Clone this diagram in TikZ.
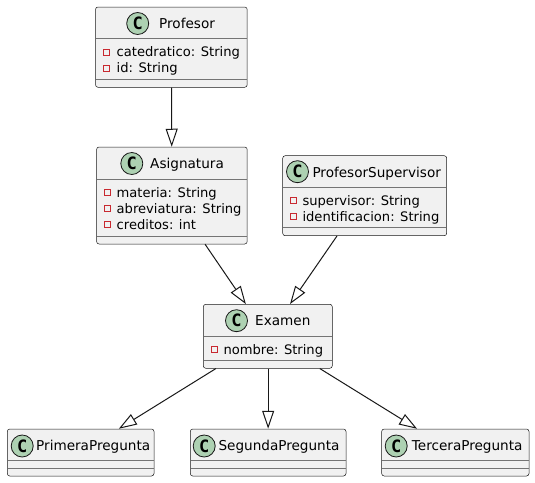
\documentclass[tikz,border=0pt]{standalone}
\usepackage{fontspec}
\setmainfont{DejaVu Sans}
\newfontfamily\cfont{DejaVu Sans Mono}
\usetikzlibrary{arrows.meta}
\definecolor{boxfill}{HTML}{F1F1F1}
\definecolor{ink}{HTML}{181818}
\definecolor{cfill}{HTML}{ADD1B2}
\definecolor{priv}{HTML}{C82930}
\tikzset{
  cls/.style={draw=ink, fill=boxfill, line width=0.5pt, rounded corners=2.5pt, inner sep=0pt, rectangle},
  sepl/.style={draw=ink!60, line width=0.8pt},
  circ/.style={circle, draw=ink, fill=cfill, line width=0.8pt, minimum size=22pt, inner sep=0pt, font=\cfont\bfseries\fontsize{17}{17}\selectfont},
  cname/.style={anchor=base west, inner sep=0pt, font=\fontsize{13.6}{13.6}\selectfont},
  attr/.style={anchor=base west, inner sep=0pt, font=\fontsize{13.1}{13.1}\selectfont},
  privsq/.style={draw=priv, line width=0.8pt, minimum size=6pt, inner sep=0pt, rectangle},
  ext/.style={draw=ink, line width=1pt, -{Triangle[open, length=18pt, width=12pt]}, line join=miter}
}
% name, L, R, T, B, s1, s2
\newcommand{\classbox}[7]{%
  \node[cls, minimum width={#3-#2}, minimum height={#5-#4}] (#1) at ({(#2+#3)/2},{(#4+#5)/2}) {};
  \draw[sepl] (#2+0.3,#6) -- (#3-0.3,#6);
  \draw[sepl] (#2+0.3,#7) -- (#3-0.3,#7);
}
\begin{document}
\begin{tikzpicture}[x=1pt, y=-1pt]
\useasboundingbox (0,0) rectangle (535,482);

% Profesor
\classbox{prof}{95.5}{247.2}{7}{87.3}{38.3}{79.3}
\node[circ] (prof-c) at (137.7,23.5) {C};
\node[cname] (prof-n) at (159,28.3) {Profesor};
\node[privsq] (prof-s1) at (106.5,52) {};
\node[attr] (prof-a1) at (116.5,56.5) {catedratico: String};
\node[privsq] (prof-s2) at (106.5,68) {};
\node[attr] (prof-a2) at (116.5,72.5) {id: String};

% Asignatura
\classbox{asig}{96.6}{247.2}{147}{244}{179.3}{236}
\node[circ] (asig-c) at (131.8,163.5) {C};
\node[cname] (asig-n) at (150,168.3) {Asignatura};
\node[privsq] (asig-s1) at (107.5,192.8) {};
\node[attr] (asig-a1) at (116.5,197.3) {materia: String};
\node[privsq] (asig-s2) at (107.5,208.8) {};
\node[attr] (asig-a2) at (116.5,213.3) {abreviatura: String};
\node[privsq] (asig-s3) at (107.5,224.8) {};
\node[attr] (asig-a3) at (116.5,229.3) {creditos: int};

% ProfesorSupervisor
\classbox{sup}{282.7}{446.7}{155.7}{235.7}{187.3}{227.7}
\node[circ] (sup-c) at (297.5,171.7) {C};
\node[cname] (sup-n) at (312.3,177.3) {ProfesorSupervisor};
\node[privsq] (sup-s1) at (293.7,200.5) {};
\node[attr] (sup-a1) at (302.3,205) {supervisor: String};
\node[privsq] (sup-s2) at (293.7,216.5) {};
\node[attr] (sup-a2) at (302.3,221) {identificacion: String};

% Examen
\classbox{exam}{203.3}{332.3}{304.3}{368.3}{336.3}{360.3}
\node[circ] (exam-c) at (236.5,320.7) {C};
\node[cname] (exam-n) at (255,325.7) {Examen};
\node[privsq] (exam-s1) at (214.2,349.5) {};
\node[attr] (exam-a1) at (223.3,354) {nombre: String};

% PrimeraPregunta
\classbox{prim}{7.3}{154}{429}{476}{460}{468}
\node[circ] (prim-c) at (22.2,446) {C};
\node[cname] (prim-n) at (36,450.7) {PrimeraPregunta};

% SegundaPregunta
\classbox{seg}{190.3}{346}{429}{476}{460}{468}
\node[circ] (seg-c) at (204.2,446) {C};
\node[cname] (seg-n) at (218.3,450.7) {SegundaPregunta};

% TerceraPregunta
\classbox{ter}{381.7}{529}{429}{476}{460}{468}
\node[circ] (ter-c) at (396.2,446) {C};
\node[cname] (ter-n) at (411.7,450.7) {TerceraPregunta};

% connectors
\draw[ext] (prof) -- (asig);
\draw[ext] (asig) -- (exam);
\draw[ext] (sup) -- (exam);
\draw[ext] (exam) -- (prim);
\draw[ext] (exam.south -| seg) -- (seg);
\draw[ext] (exam) -- (ter);
\end{tikzpicture}
\end{document}
